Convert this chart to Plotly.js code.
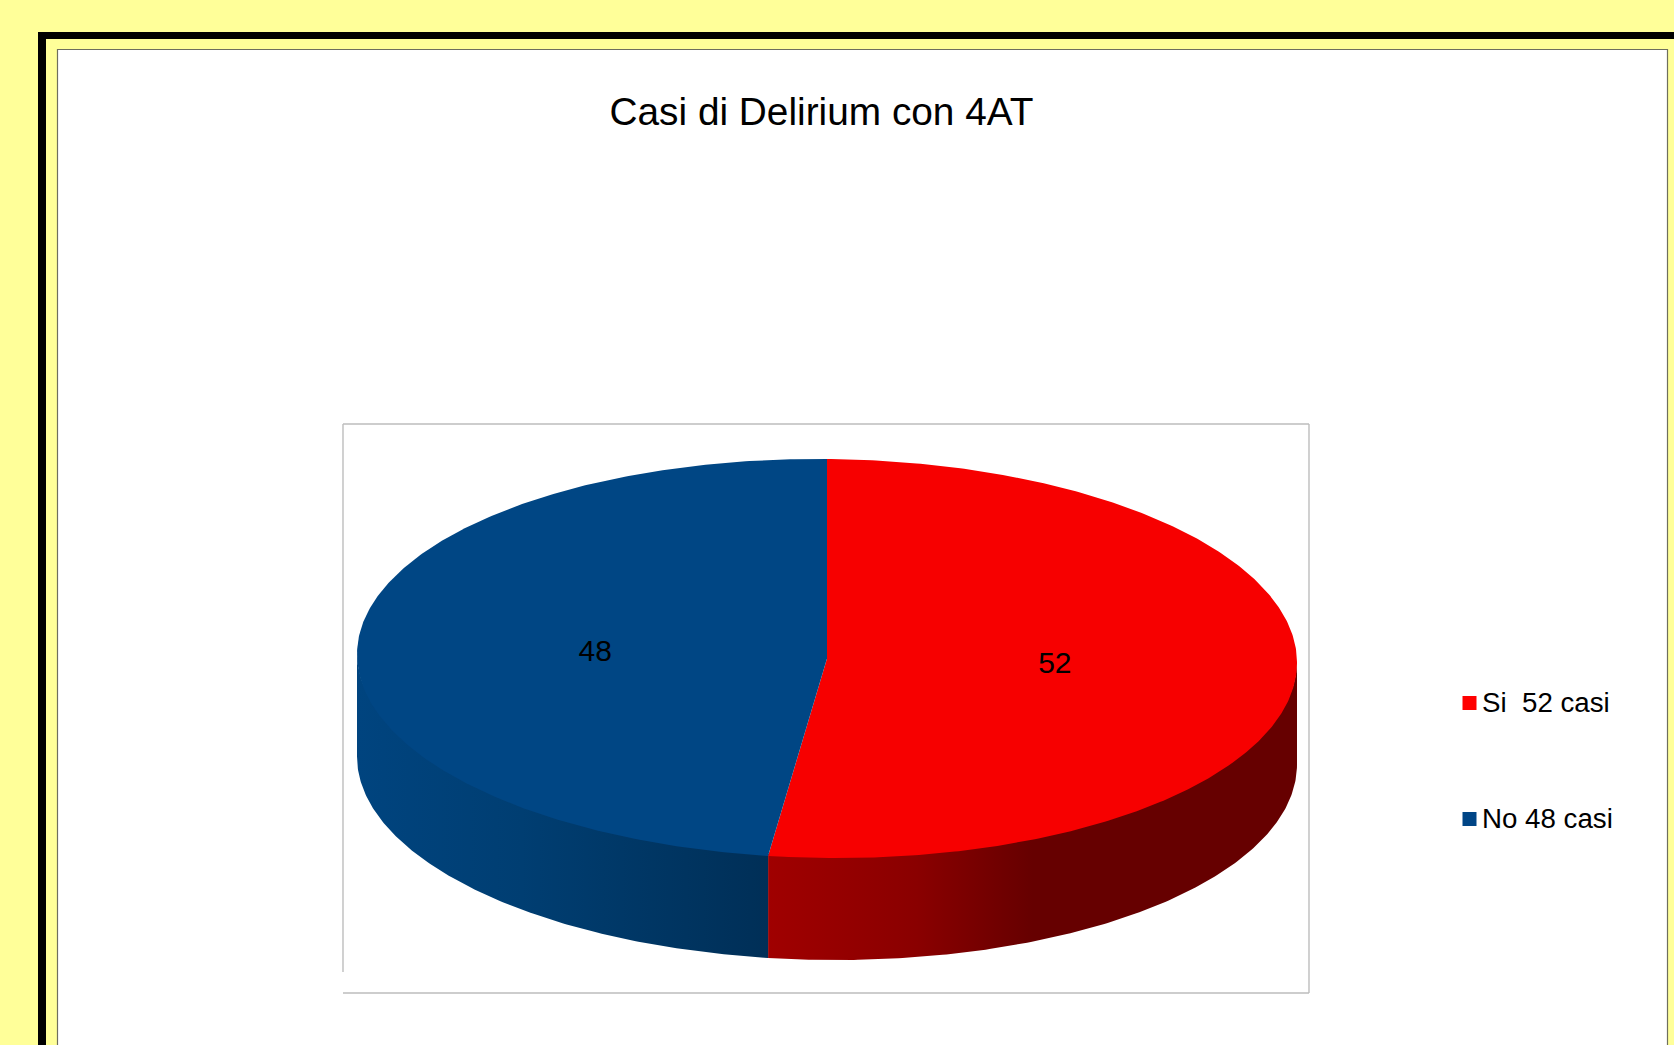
<!DOCTYPE html>
<html>
<head>
<meta charset="utf-8">
<script src="https://cdn.plot.ly/plotly-3.0.1.min.js"></script>
<style>html,body{margin:0;padding:0;background:#ffff99;overflow:hidden}#chart{width:1674px;height:1045px}</style>
</head>
<body>
<div id="chart"></div>
<script>
// Chart content
const chartTitle = 'Casi di Delirium con 4AT';
const categories = ['Si', 'No'];
const values = [52, 48];
const legendLabels = ['Si  52 casi', 'No 48 casi'];
const faceColors = ['#f70000', '#004684'];
const legendColors = ['#ff0000', '#004586'];
const wallScales = [
  [[0, '#a00000'], [0.28, '#8a0000'], [0.5, '#660000'], [1, '#660000']],
  [[0, '#00447f'], [0.4, '#003e72'], [1, '#002f57']]
];

// Page geometry in pixels
const W = 1674, H = 1045;
const FONT = '"Liberation Sans", Arial, sans-serif';
const CX = 827, CY = 658.5, RX = 470, RY = 199.5;
const DEPTH = 102 / RY;   // wall height in pie units
const TILT = 4 / RY;      // slight lean of the disc, in pie units

// Pie units -> axis ranges so that one unit spans RX / RY pixels
const xRange = [-CX / RX, (W - CX) / RX];
const yRange = [-(H - CY) / RY, CY / RY];
const pxX = px => (px - CX) / RX;
const pxY = py => (CY - py) / RY;

// Rim point for a clockwise angle measured from 12 o'clock
const rim = (deg, r = 1) => {
  const a = deg * Math.PI / 180;
  return [r * Math.sin(a), r * Math.cos(a) - TILT * Math.sin(a) * r];
};
const arc = (from, to) => {
  const n = Math.max(2, Math.ceil(Math.abs(to - from) * 2));
  return Array.from({length: n + 1}, (_, i) => rim(from + (to - from) * i / n));
};

// Cumulative slice angles from the values
const total = values.reduce((a, b) => a + b, 0);
let start = 0;
const slices = values.map(v => {
  const s = {from: start, to: start + v / total * 360};
  start = s.to;
  return s;
});

const traces = [];

// Side walls: only the part of each slice that faces the viewer (90..270 degrees).
// The upper edge runs a little under the top face so no seam shows between them.
slices.forEach((s, i) => {
  const from = Math.max(s.from, 90), to = Math.min(s.to, 270);
  const rimPts = arc(from, to);
  const upper = rimPts.map(p => [p[0], p[1] + 0.01]);
  const lower = rimPts.slice().reverse().map(p => [p[0], p[1] - DEPTH]);
  const pts = upper.concat(lower);
  const xs = lower.map(p => p[0]);
  traces.push({
    type: 'scatter', mode: 'lines', hoverinfo: 'skip', showlegend: false,
    x: pts.map(p => p[0]), y: pts.map(p => p[1]),
    line: {width: 0}, fill: 'toself',
    fillgradient: {
      type: 'horizontal',
      start: Math.min(...xs),
      stop: Math.max(...xs),
      colorscale: wallScales[i]
    }
  });
});

// Top faces
slices.forEach((s, i) => {
  const pts = [[0, 0]].concat(arc(s.from, s.to));
  traces.push({
    type: 'scatter', mode: 'lines', hoverinfo: 'skip', showlegend: false,
    name: categories[i],
    x: pts.map(p => p[0]), y: pts.map(p => p[1]),
    line: {width: 0}, fill: 'toself', fillcolor: faceColors[i]
  });
});

// Value labels at each slice's mid angle
const mid = slices.map(s => (s.from + s.to) / 2 * Math.PI / 180);
traces.push({
  type: 'scatter', mode: 'text', hoverinfo: 'skip', showlegend: false,
  x: mid.map(a => 0.49 * Math.sin(a) - 2 / RX),
  y: mid.map(a => 0.49 * Math.cos(a) - 1 / RY),
  text: values.map(String),
  textposition: 'middle center',
  textfont: {family: FONT, size: 30, color: '#000000'}
});

// Key on the right: swatch and its label
const keyY = [703, 819];
categories.forEach((c, i) => {
  traces.push({
    type: 'scatter', mode: 'markers', hoverinfo: 'skip', showlegend: false,
    name: c,
    x: [pxX(1469.5)], y: [pxY(keyY[i])],
    marker: {symbol: 'square', size: 14, color: legendColors[i], line: {width: 0}}
  });
  traces.push({
    type: 'scatter', mode: 'text', hoverinfo: 'skip', showlegend: false,
    name: c,
    x: [pxX(1482)], y: [pxY(keyY[i] + 2)],
    text: [legendLabels[i]],
    textposition: 'middle right',
    textfont: {family: FONT, size: 27.7, color: '#000000'}
  });
});

// Rectangle in page pixels
const box = (x0, y0, x1, y1, fill, line) => ({
  type: 'rect', xref: 'paper', yref: 'paper', layer: 'below',
  x0: x0 / W, x1: x1 / W, y0: 1 - y0 / H, y1: 1 - y1 / H,
  fillcolor: fill, line: line || {width: 0}
});
const seg = (x0, y0, x1, y1) => ({
  type: 'line', xref: 'paper', yref: 'paper', layer: 'below',
  x0: x0 / W, x1: x1 / W, y0: 1 - y0 / H, y1: 1 - y1 / H,
  line: {color: '#bdbdbd', width: 1.4}
});

const layout = {
  width: W, height: H,
  margin: {l: 0, r: 0, t: 0, b: 0},
  paper_bgcolor: '#ffff99',
  plot_bgcolor: 'rgba(0,0,0,0)',
  showlegend: false,
  hovermode: false,
  title: {
    text: chartTitle,
    font: {family: FONT, size: 38.8, color: '#000000'},
    x: 821.5 / W, xanchor: 'center',
    y: 1 - 111.5 / H, yanchor: 'middle'
  },
  xaxis: {range: xRange, visible: false, fixedrange: true},
  yaxis: {range: yRange, visible: false, fixedrange: true},
  shapes: [
    box(38, 32, W + 10, H + 10, '#000000'),
    box(46, 39, W + 10, H + 10, '#ffff99'),
    box(57.5, 49.5, 1667.5, H + 10, '#ffffff', {color: '#6e6e5e', width: 1.2}),
    seg(343, 424, 1309, 424),
    seg(1309, 424, 1309, 993),
    seg(343, 993, 1309, 993),
    seg(343, 424, 343, 972)
  ]
};

Plotly.newPlot('chart', traces, layout, {displayModeBar: false, staticPlot: true});
</script>
</body>
</html>
